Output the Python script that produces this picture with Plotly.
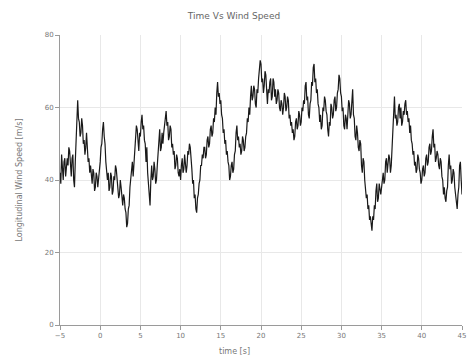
import numpy as np
import plotly.graph_objects as go

title_text = "Time Vs Wind Speed"
x_label = "time [s]"
y_label = "Longitudinal Wind Speed [m/s]"
x_ticks = [-5, 0, 5, 10, 15, 20, 25, 30, 35, 40, 45]
y_ticks = [0, 20, 40, 60, 80]

# longitudinal wind speed [m/s], sampled every 0.1 s from -5 s to 45 s
wind_speed = [
    42, 39, 47, 43, 40, 45, 46, 41, 43, 46,
    44, 49, 48, 42, 41, 46, 47, 40, 38, 45,
    50, 57, 62, 57, 56, 52, 53, 57, 55, 50,
    51, 47, 49, 53, 50, 45, 46, 42, 44, 40,
    39, 43, 42, 37, 38, 42, 41, 38, 40, 43,
    45, 49, 50, 54, 56, 52, 50, 45, 43, 40,
    42, 37, 38, 42, 41, 36, 37, 41, 40, 44,
    43, 40, 39, 35, 36, 40, 38, 35, 33, 36,
    35, 32, 31, 27, 28, 32, 33, 38, 40, 43,
    45, 41, 44, 49, 50, 55, 54, 50, 48, 53,
    52, 56, 58, 54, 55, 51, 50, 45, 49, 42,
    38, 35, 33, 40, 44, 40, 41, 45, 43, 39,
    40, 44, 47, 52, 54, 48, 49, 53, 50, 53,
    55, 58, 59, 55, 56, 51, 52, 55, 54, 49,
    50, 47, 48, 43, 44, 47, 46, 42, 41, 43,
    40, 44, 46, 42, 43, 47, 45, 42, 44, 48,
    47, 50, 49, 44, 43, 39, 40, 35, 36, 32,
    31, 35, 36, 39, 40, 44, 44, 47, 46, 49,
    49, 46, 47, 51, 52, 49, 50, 54, 55, 52,
    53, 57, 56, 60, 58, 64, 67, 63, 64, 61,
    62, 58, 57, 53, 54, 50, 51, 47, 48, 45,
    44, 40, 41, 44, 45, 42, 43, 47, 48, 53,
    55, 51, 52, 49, 50, 47, 48, 52, 51, 48,
    49, 52, 53, 57, 56, 60, 58, 63, 66, 62,
    63, 66, 65, 61, 60, 65, 64, 68, 70, 73,
    72, 67, 68, 64, 66, 70, 69, 63, 61, 65,
    64, 67, 68, 62, 63, 68, 67, 63, 65, 61,
    62, 65, 64, 60, 59, 62, 61, 58, 60, 64,
    63, 59, 60, 63, 62, 57, 58, 55, 56, 53,
    54, 51, 52, 56, 57, 54, 55, 59, 58, 55,
    56, 60, 59, 62, 61, 66, 67, 62, 63, 58,
    57, 61, 62, 67, 66, 71, 72, 67, 68, 64,
    65, 61, 60, 56, 58, 54, 55, 60, 59, 63,
    62, 59, 58, 54, 52, 56, 55, 61, 60, 57,
    58, 62, 63, 59, 60, 64, 65, 69, 68, 64,
    63, 59, 60, 55, 54, 58, 57, 54, 58, 62,
    61, 57, 58, 63, 65, 58, 57, 52, 51, 55,
    53, 49, 48, 51, 50, 44, 42, 46, 45, 40,
    38, 35, 36, 32, 33, 29, 30, 27, 26, 30,
    29, 33, 32, 37, 39, 34, 35, 39, 37, 36,
    38, 41, 42, 39, 40, 45, 46, 42, 44, 47,
    46, 42, 44, 50, 53, 60, 63, 57, 58, 55,
    56, 60, 61, 57, 60, 55, 56, 59, 58, 61,
    62, 58, 59, 56, 57, 53, 55, 51, 50, 47,
    48, 44, 45, 42, 43, 47, 46, 43, 42, 39,
    40, 43, 44, 41, 42, 46, 47, 44, 45, 49,
    50, 47, 48, 52, 54, 49, 50, 45, 46, 48,
    47, 44, 43, 46, 45, 41, 40, 36, 38, 35,
    34, 37, 38, 44, 47, 43, 44, 39, 40, 43,
    42, 38, 36, 33, 32, 36, 38, 44, 45, 40,
    36,
]
time_s = np.linspace(x_ticks[0], x_ticks[-1], len(wind_speed))

fig = go.Figure()
fig.add_trace(go.Scatter(
    x=time_s, y=wind_speed, mode="lines",
    line=dict(color="#1a1a1a", width=1.2),
    showlegend=False, hoverinfo="skip",
))

axis_common = dict(
    showgrid=True, gridcolor="#e8e8e8", gridwidth=1,
    showline=True, linecolor="#9a9a9a", linewidth=1,
    ticks="outside", ticklen=4, tickcolor="#9a9a9a",
    tickfont=dict(family="DejaVu Sans", size=7, color="#777777"),
    zeroline=False, mirror=False, automargin=False,
)

fig.update_layout(
    width=468, height=360,
    margin=dict(l=60, r=6, t=35, b=35),
    paper_bgcolor="white", plot_bgcolor="white",
    title=dict(text=title_text, x=0.5, xref="container", y=0.955, yref="container",
               xanchor="center", yanchor="middle",
               font=dict(family="DejaVu Sans", size=9, color="#666666")),
    xaxis=dict(range=[-5, 45], tickvals=x_ticks, **axis_common),
    yaxis=dict(range=[0, 80], tickvals=y_ticks,
               title=dict(text=y_label, standoff=20,
                          font=dict(family="DejaVu Sans", size=8, color="#777777")),
               **axis_common),
    annotations=[dict(text=x_label, xref="paper", yref="paper",
                      x=(234 - 60) / 402, y=-0.093, xanchor="center", yanchor="middle",
                      showarrow=False,
                      font=dict(family="DejaVu Sans", size=8, color="#777777"))],
)

fig.write_html("out.html", config={"displayModeBar": False},
               post_script="document.body.style.margin='0';")
